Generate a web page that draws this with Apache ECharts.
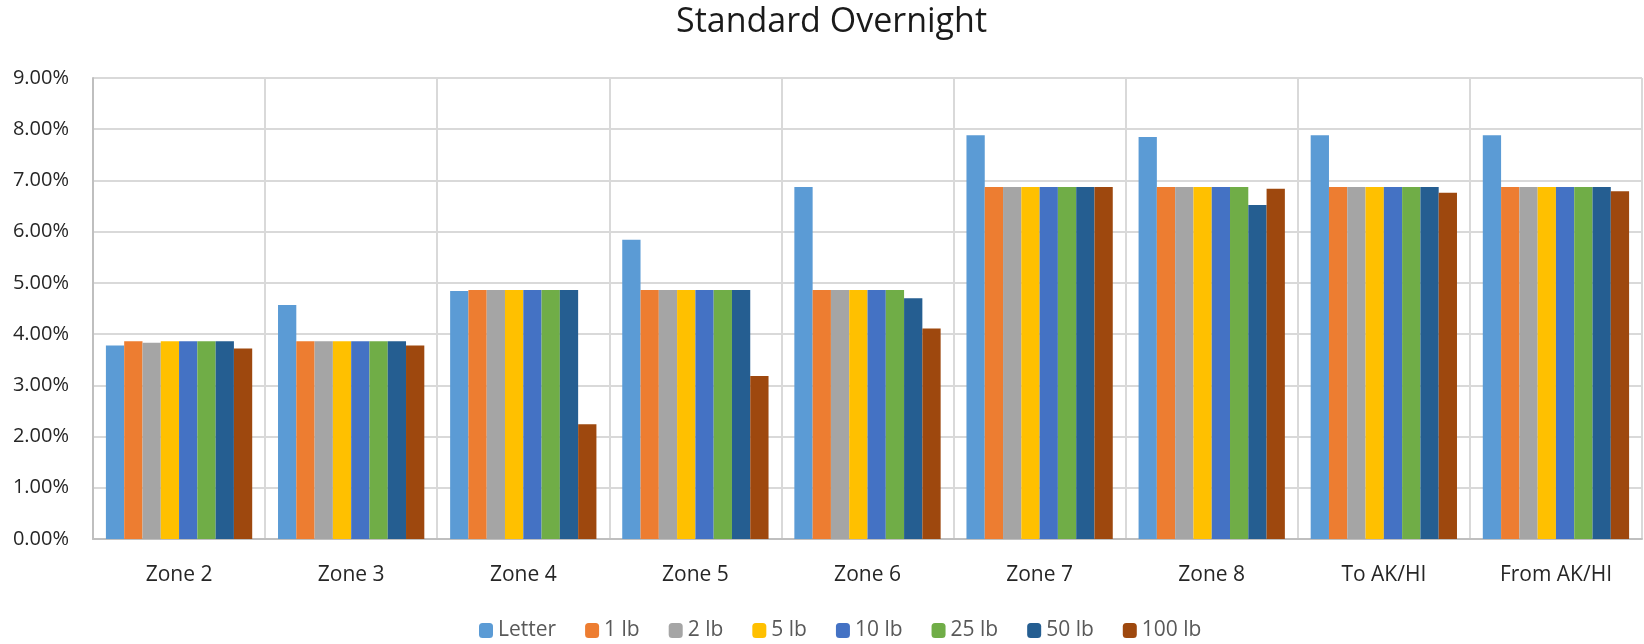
<!DOCTYPE html>
<html>
<head>
<meta charset="utf-8">
<script src="https://cdn.jsdelivr.net/npm/echarts@6/dist/echarts.min.js"></script>
<style>
  html, body { margin: 0; padding: 0; background: #fff; }
  #chart { width: 1644px; height: 644px; }
</style>
</head>
<body>
<div id="chart"></div>
<script>
const categories = ['Zone 2', 'Zone 3', 'Zone 4', 'Zone 5', 'Zone 6', 'Zone 7', 'Zone 8', 'To AK/HI', 'From AK/HI'];
const seriesNames = ['Letter', '1 lb', '2 lb', '5 lb', '10 lb', '25 lb', '50 lb', '100 lb'];
const letter = [3.78, 4.57, 4.84, 5.84, 6.87, 7.88, 7.85, 7.88, 7.88];
const lb1 = [3.86, 3.86, 4.86, 4.86, 4.86, 6.87, 6.87, 6.87, 6.87];
const lb2 = [3.83, 3.86, 4.86, 4.86, 4.86, 6.87, 6.87, 6.87, 6.87];
const lb5 = [3.86, 3.86, 4.86, 4.86, 4.86, 6.87, 6.87, 6.87, 6.87];
const lb10 = [3.86, 3.86, 4.86, 4.86, 4.86, 6.87, 6.87, 6.87, 6.87];
const lb25 = [3.86, 3.86, 4.86, 4.86, 4.86, 6.87, 6.87, 6.87, 6.87];
const lb50 = [3.86, 3.86, 4.86, 4.86, 4.70, 6.87, 6.52, 6.87, 6.87];
const lb100 = [3.72, 3.78, 2.24, 3.18, 4.11, 6.87, 6.84, 6.76, 6.79];
const colors = ['#5B9BD5', '#ED7D31', '#A5A5A5', '#FFC000', '#4472C4', '#70AD47', '#255E91', '#9E480E'];
const seriesData = [letter, lb1, lb2, lb5, lb10, lb25, lb50, lb100];

const chart = echarts.init(document.getElementById('chart'));
const FONT = '"Open Sans", "Noto Sans", sans-serif';
chart.setOption({
  animation: false,
  color: colors,
  title: {
    text: 'Standard Overnight',
    left: 671,
    top: 0,
    textStyle: { fontFamily: FONT, fontSize: 34, fontWeight: 'normal', color: '#1a1a1a' }
  },
  legend: {
    data: seriesNames,
    left: 474,
    top: 615,
    itemWidth: 14,
    itemHeight: 15,
    itemGap: 29,
    textStyle: { fontFamily: FONT, fontSize: 21, color: '#595959' }
  },
  grid: { left: 93, right: 2, top: 78, bottom: 105, containLabel: false },
  xAxis: {
    type: 'category',
    data: categories,
    axisTick: { show: false },
    axisLine: { lineStyle: { color: '#bfbfbf', width: 2 } },
    axisLabel: { fontFamily: FONT, fontSize: 21, color: '#262626', margin: 26 },
    splitLine: { show: true, lineStyle: { color: '#d9d9d9', width: 2 } }
  },
  yAxis: {
    type: 'value',
    min: 0,
    max: 9,
    interval: 1,
    axisLine: { show: true, lineStyle: { color: '#bfbfbf', width: 2 } },
    axisTick: { show: false },
    axisLabel: {
      fontFamily: FONT, fontSize: 20, color: '#262626', margin: 24,
      formatter: v => v.toFixed(2) + '%'
    },
    splitLine: { lineStyle: { color: '#d9d9d9', width: 2 } }
  },
  series: seriesNames.map((name, i) => ({
    name: name,
    type: 'bar',
    data: seriesData[i],
    barGap: '0%',
    barCategoryGap: '15%',
    itemStyle: { color: colors[i] }
  }))
});
</script>
</body>
</html>
